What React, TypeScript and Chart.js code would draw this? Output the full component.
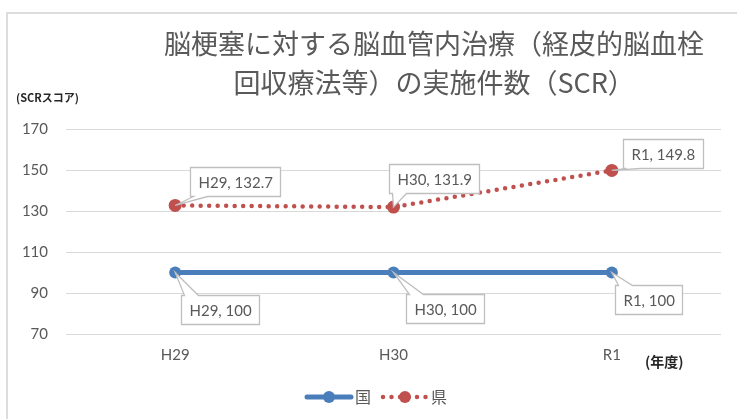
import { useEffect, useRef } from "react";
import { Chart, registerables } from "chart.js";

Chart.register(...registerables);

// ---- data ----
const categories = ["H29", "H30", "R1"];
const nationalValues = [100, 100, 100];
const prefectureValues = [132.7, 131.9, 149.8];
const seriesNames = ["国", "県"];
const yTicks = [70, 90, 110, 130, 150, 170];
const titleLines = ["脳梗塞に対する脳血管内治療（経皮的脳血栓", "回収療法等）の実施件数（SCR）"];
const yAxisTitle = "(SCRスコア)";
const xAxisTitle = "(年度)";

// ---- style ----
const BLUE = "#4a7ebb";
const RED = "#c0504d";
const TEXT = "#595959";
const GRID = "#d9d9d9";
const LATIN = "Lato, 'Open Sans', sans-serif";
const CJK = "'Noto Sans CJK JP', sans-serif";

// callout box offsets relative to the data point (box left / top)
const calloutOffsets = [
  [
    { dx: 6, dy: 22 },
    { dx: 12, dy: 21 },
    { dx: 3, dy: 12 },
  ],
  [
    { dx: 15, dy: -38 },
    { dx: -5, dy: -43 },
    { dx: 11, dy: -31 },
  ],
];

const fmt = (v: number) => String(v);

const decorPlugin = {
  id: "decor",
  afterDatasetsDraw(chart: any) {
    const ctx = chart.ctx as CanvasRenderingContext2D;
    ctx.save();
    ctx.font = `15px ${LATIN}`;
    ctx.textBaseline = "middle";
    ctx.textAlign = "left";
    chart.data.datasets.forEach((ds: any, di: number) => {
      const meta = chart.getDatasetMeta(di);
      meta.data.forEach((pt: any, j: number) => {
        const text = `${categories[j]}, ${fmt(ds.data[j])}`;
        const off = calloutOffsets[di][j];
        const tw = ctx.measureText(text).width;
        const w = Math.round(tw + 16);
        const h = 29;
        const L = Math.round(pt.x + off.dx) + 0.5;
        const T = Math.round(pt.y + off.dy) + 0.5;
        const R = L + w;
        const B = T + h;
        const b1 = 3;
        const b2 = 17;
        ctx.beginPath();
        if (off.dy > 0) {
          ctx.moveTo(L, T);
          ctx.lineTo(L + b1, T);
          ctx.lineTo(pt.x, pt.y);
          ctx.lineTo(L + b2, T);
          ctx.lineTo(R, T);
          ctx.lineTo(R, B);
          ctx.lineTo(L, B);
        } else {
          ctx.moveTo(L, T);
          ctx.lineTo(R, T);
          ctx.lineTo(R, B);
          ctx.lineTo(L + b2, B);
          ctx.lineTo(pt.x, pt.y);
          ctx.lineTo(L + b1, B);
          ctx.lineTo(L, B);
        }
        ctx.closePath();
        ctx.fillStyle = "#ffffff";
        ctx.fill();
        ctx.strokeStyle = "#bfbfbf";
        ctx.lineWidth = 1.3;
        ctx.stroke();
        ctx.fillStyle = TEXT;
        ctx.fillText(text, L + 8, T + h / 2 + 1);
      });
    });
    ctx.restore();
  },
  afterDraw(chart: any) {
    const ctx = chart.ctx as CanvasRenderingContext2D;
    const area = chart.chartArea;
    ctx.save();
    // title
    ctx.fillStyle = TEXT;
    ctx.font = `27px ${CJK}`;
    ctx.textAlign = "center";
    ctx.textBaseline = "middle";
    const cx = area.left + (area.right - area.left) * 0.562;
    ctx.fillText(titleLines[0], cx, 44);
    ctx.fillText(titleLines[1], cx, 83);
    // axis titles
    ctx.fillStyle = "#262626";
    ctx.font = `bold 11px ${CJK}`;
    ctx.textAlign = "left";
    ctx.fillText(yAxisTitle, 16, 98);
    ctx.font = `bold 14px ${CJK}`;
    ctx.fillText(xAxisTitle, 645, 362);
    // legend
    const ly = 397;
    const items = [
      { x0: 307, color: BLUE, dotted: false, label: seriesNames[0] },
      { x0: 383, color: RED, dotted: true, label: seriesNames[1] },
    ];
    items.forEach((it) => {
      ctx.strokeStyle = it.color;
      ctx.lineCap = "round";
      if (it.dotted) {
        ctx.lineWidth = 4.5;
        ctx.setLineDash([0, 8.5]);
      } else {
        ctx.lineWidth = 5;
        ctx.setLineDash([]);
      }
      ctx.beginPath();
      ctx.moveTo(it.x0, ly);
      ctx.lineTo(it.x0 + 44, ly);
      ctx.stroke();
      ctx.setLineDash([]);
      ctx.fillStyle = it.color;
      ctx.beginPath();
      ctx.arc(it.x0 + 22, ly, 6, 0, Math.PI * 2);
      ctx.fill();
      ctx.fillStyle = TEXT;
      ctx.font = `16px ${CJK}`;
      ctx.textAlign = "left";
      ctx.textBaseline = "middle";
      ctx.fillText(it.label, it.x0 + 48, ly);
    });
    ctx.restore();
  },
};

export default function App() {
  const ref = useRef<HTMLCanvasElement | null>(null);
  useEffect(() => {
    if (!ref.current) return;
    const chart = new Chart(ref.current, {
      type: "line",
      data: {
        labels: categories,
        datasets: [
          {
            label: seriesNames[0],
            data: nationalValues,
            borderColor: BLUE,
            backgroundColor: BLUE,
            borderWidth: 5,
            pointRadius: 6,
            pointBorderWidth: 0,
            pointBackgroundColor: BLUE,
            tension: 0,
          },
          {
            label: seriesNames[1],
            data: prefectureValues,
            borderColor: RED,
            backgroundColor: RED,
            borderWidth: 4.5,
            borderDash: [0, 8.5],
            borderCapStyle: "round",
            pointRadius: 6.5,
            pointBorderWidth: 0,
            pointBackgroundColor: RED,
            tension: 0,
          },
        ],
      },
      options: {
        responsive: false,
        animation: false,
        layout: { padding: { top: 129, right: 16, bottom: 0, left: 0 } },
        plugins: {
          legend: { display: false },
          title: { display: false },
          tooltip: { enabled: false },
        },
        scales: {
          x: {
            offset: true,
            grid: { display: false, drawTicks: false },
            border: { display: false },
            ticks: {
              color: TEXT,
              font: { family: LATIN, size: 15 },
              padding: 12,
            },
            afterFit: (s: any) => {
              s.height = 85;
            },
          },
          y: {
            min: 70,
            max: 170,
            grid: { color: GRID, lineWidth: 1, drawTicks: false },
            border: { display: false },
            ticks: {
              color: TEXT,
              font: { family: LATIN, size: 15 },
              padding: 18,
            },
            afterBuildTicks: (s: any) => {
              s.ticks = yTicks.map((v) => ({ value: v }));
            },
            afterFit: (s: any) => {
              s.width = 66;
            },
          },
        },
      },
      plugins: [decorPlugin],
    } as any);
    return () => chart.destroy();
  }, []);

  return (
    <div
      style={{
        position: "absolute",
        left: 0,
        top: 0,
        width: 737,
        height: 419,
        overflow: "hidden",
        background: "#ffffff",
      }}
    >
      <div
        style={{
          position: "absolute",
          left: 6,
          top: 12,
          width: 800,
          height: 500,
          borderTop: "2px solid #dcdcdc",
          borderLeft: "2px solid #dcdcdc",
        }}
      />
      <canvas
        ref={ref}
        width={737}
        height={419}
        style={{ position: "absolute", left: 0, top: 0, display: "block" }}
      />
    </div>
  );
}
